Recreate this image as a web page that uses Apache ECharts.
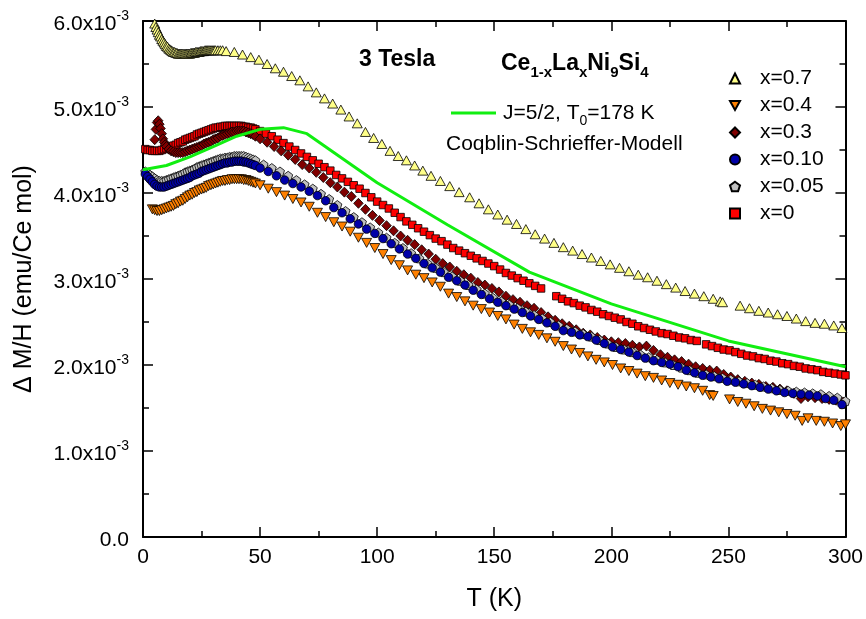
<!DOCTYPE html>
<html>
<head>
<meta charset="utf-8">
<script src="https://cdn.jsdelivr.net/npm/echarts@6/dist/echarts.min.js"></script>
<style>
  html, body { margin: 0; padding: 0; background: #fff; }
  #chart { width: 866px; height: 619px; }
</style>
</head>
<body>
<div id="chart"></div>
<script>
// Ce(1-x)La(x)Ni9Si4 at 3 T: Delta M/H in units of 1e-3 emu/(Ce mol) versus T (K)
const FONT = '"Liberation Sans", Arial, sans-serif';

const xTickValues = [0, 50, 100, 150, 200, 250, 300];
const yTickValues = [0, 1, 2, 3, 4, 5, 6];
const seriesNames = ['x=0.7', 'x=0.4', 'x=0.3', 'x=0.10', 'x=0.05', 'x=0'];
const modelName = 'J=5/2, T0=178 K';

// x = 0.7
const dataX07 = [[4.5,6.02],[5,5.97],[5.5,5.93],[6,5.90],[6.5,5.87],[7,5.84],[7.5,5.82],[8,5.79],[8.5,5.77],[9,5.75],[9.5,5.73],[10,5.71],[10.5,5.70],[11,5.68],[11.5,5.67],[12,5.66],[12.5,5.65],[13,5.64],[13.5,5.64],[14,5.63],[14.5,5.63],[15,5.62],[15.5,5.62],[16,5.62],[16.5,5.62],[17,5.62],[17.5,5.62],[18,5.62],[18.5,5.62],[19,5.62],[19.5,5.62],[20,5.62],[20.5,5.63],[21,5.63],[21.5,5.63],[22,5.63],[22.5,5.64],[23,5.64],[23.5,5.64],[24,5.64],[24.5,5.65],[25,5.65],[25.5,5.65],[26,5.65],[26.5,5.66],[27,5.66],[27.5,5.66],[28,5.66],[28.5,5.66],[29,5.66],[29.5,5.66],[30,5.66],[30.5,5.66],[31,5.66],[32,5.66],[33,5.66],[34,5.66],
  [35.5,5.65],[39,5.64],[42.5,5.61],[46,5.58],[49.5,5.55],[53,5.50],[56.5,5.45],[60,5.41],[63.5,5.36],[67,5.31],[70.5,5.24],[74,5.17],[77.5,5.10],[81,5.04],[84.5,4.97],[88,4.89],[91.5,4.81],[95,4.71],[98.5,4.64],[102,4.57],[105.5,4.49],[109,4.43],[112.5,4.38],[116,4.32],[119.5,4.26],[123,4.20],[127,4.14],[131,4.08],[135,4.01],[139.5,3.95],[143.5,3.88],[147.5,3.81],[151.5,3.75],[155.5,3.69],[159.5,3.64],[163.5,3.58],[167.5,3.52],[171.5,3.47],[175.5,3.42],[179.5,3.37],[183.5,3.33],[187.5,3.29],[191.5,3.25],[195.5,3.21],[199.5,3.17],[203.5,3.13],[207.5,3.09],[211.5,3.05],[215.5,3.02],[219.5,2.98],[223.5,2.94],[227.5,2.90],[231.5,2.86],[235.5,2.83],[239.5,2.80],[243.5,2.77],[246.5,2.74],[247.5,2.73],[255,2.69],[259,2.66],[263,2.63],[267,2.61],[271,2.59],[275,2.57],[279,2.54],[283,2.51],[287,2.49],[291,2.48],[295,2.46],[298.5,2.43]];

// x = 0.4
const dataX04 = [[4,3.81],[5,3.80],[6,3.79],[7,3.79],[8,3.80],[9,3.81],[10,3.82],[11,3.83],[12,3.84],[13,3.85],[14,3.87],[15,3.88],[16,3.90],[17,3.91],[18,3.93],[19,3.95],[20,3.97],[21,3.98],[22,4.00],[23,4.01],[24,4.03],[25,4.04],[26,4.05],[27,4.06],[28,4.08],[29,4.09],[30,4.10],[31,4.11],[32,4.12],[33,4.13],[34,4.14],[35,4.14],[36,4.15],[37,4.15],[38,4.16],[39,4.16],[40,4.16],[41,4.16],[42,4.16],[43,4.15],[44,4.15],[45,4.14],[46,4.13],[47,4.12],[48,4.11],
  [50,4.09],[53.5,4.05],[57,4.01],[60.5,3.97],[64,3.93],[67.5,3.89],[71,3.84],[74.5,3.77],[78,3.72],[81.5,3.66],[85,3.61],[88.5,3.55],[92,3.48],[95.5,3.42],[99,3.36],[102.5,3.29],[106,3.22],[109.5,3.16],[113,3.10],[116.5,3.05],[120,3.01],[123.5,2.96],[127,2.91],[130.5,2.83],[134,2.79],[137.5,2.74],[141,2.69],[144.5,2.65],[148,2.61],[151.5,2.57],[155,2.53],[158.5,2.47],[162,2.42],[165.5,2.38],[169,2.35],[172.5,2.31],[176,2.27],[179.5,2.22],[183,2.18],[186.5,2.14],[190,2.10],[193.5,2.06],[197,2.03],[200.5,2.00],[204,1.96],[207.5,1.93],[211,1.90],[214.5,1.87],[218,1.85],[221.5,1.82],[225,1.79],[228.5,1.77],[232,1.75],[235.5,1.73],[239,1.70],[242,1.65],[243.5,1.64],[250.5,1.60],[254,1.57],[257.5,1.55],[261,1.52],[264.5,1.49],[268,1.47],[271.5,1.45],[275,1.43],[278.5,1.41],[281.5,1.35],[284,1.38],[287.5,1.35],[291,1.34],[294.5,1.32],[298,1.29],[300,1.31]];

// x = 0.3
const dataX03 = [[5,4.62],[5.5,4.74],[6,4.82],[6.5,4.84],[7,4.80],[7.5,4.75],[8,4.69],[8.5,4.63],[9,4.59],[9.5,4.56],[10,4.54],[11,4.51],[12,4.49],[13,4.48],[14,4.47],[15,4.47],[16,4.47],[17,4.47],[18,4.48],[19,4.49],[20,4.50],[21,4.51],[22,4.52],[23,4.53],[24,4.54],[25,4.55],[26,4.57],[27,4.58],[28,4.59],[29,4.60],[30,4.62],[31,4.63],[32,4.64],[33,4.66],[34,4.67],[35,4.68],[36,4.69],[37,4.70],[38,4.71],[39,4.71],[40,4.72],[41,4.72],[42,4.72],[43,4.72],[44,4.71],[45,4.70],[46,4.69],[47,4.68],[48,4.66],
  [50,4.63],[53,4.59],[56,4.54],[59,4.49],[62,4.44],[65,4.39],[68,4.33],[71,4.29],[74,4.24],[77,4.18],[80,4.12],[83,4.07],[86,4.01],[89,3.96],[92,3.88],[95,3.81],[98,3.74],[101,3.68],[104,3.62],[107,3.56],[110,3.50],[113,3.45],[116,3.40],[119,3.34],[122,3.29],[125,3.23],[128,3.18],[131,3.14],[134,3.09],[137,3.05],[140,3.01],[143,2.96],[146,2.93],[149,2.89],[152,2.85],[155,2.80],[158,2.76],[161,2.73],[164,2.69],[167,2.66],[170,2.61],[173,2.56],[176,2.52],[179,2.48],[182,2.45],[185,2.41],[188,2.37],[191,2.35],[194,2.32],[197,2.29],[200,2.27],[203,2.26],[206,2.25],[209,2.23],[212,2.21],[215,2.22],[218,2.17],[221,2.12],[224,2.09],[227,2.06],[230,2.04],[233,2.01],[236,1.98],[239,1.96],[242,1.94],[245,1.93],[248,1.89],[251,1.86],[254,1.83],[257,1.81],[260,1.79],[263,1.775],[266,1.75],[269,1.74],[272,1.72],[275,1.70],[278,1.67],[281,1.61],[284,1.63],[287,1.62],[290,1.61],[293,1.60],[296,1.59],[299,1.57]];

// x = 0.10
const dataX010 = [[1,4.22],[2,4.19],[3,4.16],[4,4.13],[5,4.10],[6,4.08],[7,4.07],[8,4.07],[9,4.07],[10,4.08],[11,4.09],[12,4.10],[13,4.11],[14,4.12],[15,4.13],[16,4.14],[17,4.15],[18,4.16],[19,4.17],[20,4.18],[21,4.20],[22,4.21],[23,4.22],[24,4.23],[25,4.25],[26,4.26],[27,4.27],[28,4.28],[29,4.29],[30,4.30],[31,4.31],[32,4.32],[33,4.33],[34,4.34],[35,4.35],[36,4.35],[37,4.36],[38,4.36],[39,4.37],[40,4.37],[41,4.37],[42,4.37],[43,4.36],[44,4.36],[45,4.35],[46,4.34],[47,4.33],[48,4.32],
  [50,4.29],[53.5,4.25],[57,4.20],[60.5,4.15],[64,4.11],[67.5,4.07],[71,4.02],[74.5,3.97],[78,3.91],[81.5,3.83],[85,3.77],[88.5,3.70],[92,3.64],[95.5,3.58],[99,3.53],[102.5,3.47],[106,3.41],[109.5,3.35],[113,3.29],[116.5,3.24],[120,3.18],[123.5,3.13],[127,3.08],[130.5,3.02],[134,2.98],[137.5,2.93],[141,2.87],[144.5,2.82],[148,2.77],[151.5,2.73],[155,2.69],[158.5,2.65],[162,2.61],[165.5,2.57],[169,2.53],[172.5,2.49],[176,2.45],[179.5,2.40],[183,2.38],[186.5,2.35],[190,2.33],[193.5,2.29],[197,2.25],[200.5,2.21],[204,2.18],[207.5,2.15],[211,2.11],[214.5,2.08],[218,2.05],[221.5,2.03],[225,2.01],[228.5,1.98],[232,1.94],[235.5,1.91],[239,1.88],[242.5,1.86],[246,1.84],[249.5,1.81],[253,1.80],[256.5,1.78],[260,1.76],[263.5,1.74],[267,1.72],[270.5,1.70],[274,1.68],[277.5,1.67],[281,1.66],[284.5,1.65],[288,1.64],[291.5,1.61],[295,1.59],[298.5,1.54]];

// x = 0.05
const dataX005 = [[1,4.25],[2,4.23],[3,4.21],[4,4.19],[5,4.17],[6,4.15],[7,4.14],[8,4.14],[9,4.14],[10,4.15],[11,4.16],[12,4.17],[13,4.18],[14,4.19],[15,4.20],[16,4.21],[17,4.22],[18,4.24],[19,4.25],[20,4.26],[21,4.27],[22,4.28],[23,4.30],[24,4.31],[25,4.32],[26,4.33],[27,4.34],[28,4.35],[29,4.36],[30,4.37],[31,4.38],[32,4.39],[33,4.40],[34,4.40],[35,4.41],[36,4.41],[37,4.42],[38,4.42],[39,4.43],[40,4.43],[41,4.43],[42,4.43],[43,4.43],[44,4.42],[45,4.41],[46,4.40],[47,4.39],[48,4.38],
  [51.5,4.33],[55,4.29],[58.5,4.25],[62,4.20],[65.5,4.15],[69,4.10],[72.5,4.05],[76,3.99],[79.5,3.93],[83,3.86],[86.5,3.79],[90,3.72],[93.5,3.66],[97,3.60],[100.5,3.54],[104,3.48],[107.5,3.42],[111,3.36],[114.5,3.30],[118,3.24],[121.5,3.18],[125,3.13],[128.5,3.08],[132,3.03],[135.5,2.98],[139,2.93],[142.5,2.88],[146,2.83],[149.5,2.78],[153,2.74],[156.5,2.70],[160,2.66],[163.5,2.62],[167,2.58],[170.5,2.54],[174,2.50],[177.5,2.46],[181,2.42],[184.5,2.39],[188,2.36],[191.5,2.33],[195,2.29],[198.5,2.25],[202,2.21],[205.5,2.18],[209,2.15],[212.5,2.12],[216,2.09],[219.5,2.06],[223,2.03],[226.5,2.00],[230,1.97],[233.5,1.94],[237,1.91],[240.5,1.89],[244,1.87],[247.5,1.85],[251,1.83],[254.5,1.81],[258,1.79],[261.5,1.77],[265,1.75],[268.5,1.73],[272,1.71],[275.5,1.70],[279,1.69],[282.5,1.68],[286,1.67],[289.5,1.66],[293,1.64],[296.5,1.62],[300,1.58]];

// x = 0
const dataX0 = [[1,4.51],[2,4.50],[3,4.50],[4,4.49],[5,4.49],[6,4.49],[7,4.49],[8,4.50],[9,4.51],[10,4.52],[11,4.53],[12,4.54],[13,4.55],[14,4.56],[15,4.58],[16,4.59],[17,4.60],[18,4.62],[19,4.63],[20,4.64],[21,4.65],[22,4.66],[23,4.68],[24,4.69],[25,4.70],[26,4.71],[27,4.72],[28,4.73],[29,4.74],[30,4.75],[31,4.76],[32,4.76],[33,4.77],[34,4.77],[35,4.78],[36,4.78],[37,4.78],[38,4.78],[39,4.78],[40,4.78],[41,4.78],[42,4.78],[43,4.77],[44,4.77],[45,4.76],[46,4.76],[47,4.75],[48,4.74],
  [50,4.72],[52.5,4.69],[55,4.66],[57.5,4.62],[60,4.58],[62.5,4.54],[65,4.50],[67.5,4.46],[70,4.42],[72.5,4.38],[75,4.34],[77.5,4.30],[80,4.26],[82.5,4.21],[85,4.17],[87.5,4.13],[90,4.09],[92.5,4.05],[95,4.00],[97.5,3.95],[100,3.90],[102.5,3.86],[105,3.82],[107.5,3.77],[110,3.72],[112.5,3.67],[115,3.63],[117.5,3.59],[120,3.55],[122.5,3.51],[125,3.47],[127.5,3.44],[130,3.40],[132.5,3.36],[135,3.33],[137.5,3.30],[140,3.27],[142.5,3.24],[145,3.21],[147.5,3.18],[150,3.15],[152.5,3.11],[155,3.07],[157.5,3.04],[160,3.01],[162.5,2.98],[165,2.95],[167.5,2.92],[170,2.89],[176.5,2.80],[179,2.77],[181.5,2.74],[184,2.72],[186.5,2.69],[189,2.67],[191.5,2.64],[194,2.62],[196.5,2.59],[199,2.57],[201.5,2.55],[204,2.53],[206.5,2.50],[209,2.48],[211.5,2.45],[214,2.43],[216.5,2.41],[219,2.39],[221.5,2.37],[224,2.36],[226.5,2.34],[229,2.32],[231.5,2.31],[234,2.29],[236.5,2.28],[240.5,2.24],[243,2.22],[245.5,2.20],[248,2.18],[250.5,2.17],[253,2.15],[255.5,2.13],[258,2.11],[260.5,2.10],[263,2.08],[265.5,2.07],[268,2.05],[270.5,2.04],[273,2.02],[275.5,2.01],[278,1.99],[280.5,1.98],[283,1.96],[285.5,1.95],[288,1.94],[290.5,1.92],[293,1.91],[295.5,1.90],[298,1.89],[300,1.88]];

// Coqblin-Schrieffer model curve, J = 5/2, T0 = 178 K
const modelCurve = [[0,4.27],[10,4.32],[20,4.42],[30,4.54],[40,4.66],[50,4.74],[60,4.76],[70,4.69],[100,4.12],[130,3.63],[165,3.08],[200,2.71],[250,2.28],[300,1.98]];

const PENTAGON = 'path://M50,0 L97.6,34.5 L79.4,90.5 L20.6,90.5 L2.4,34.5 Z';
const DOWN_TRIANGLE = 'path://M0,0 L10,0 L5,9 Z';
const MODEL_GREEN = '#11EE11';

function scatter(name, data, symbol, size, color, extra) {
  return Object.assign({
    type: 'scatter', name: name, data: data,
    symbol: symbol, symbolSize: size,
    itemStyle: { color: color, borderColor: '#000', borderWidth: 0.8, opacity: 1 },
    emphasis: { disabled: true },
    clip: true
  }, extra || {});
}

const tickStyle = { color: '#000', width: 1.5 };
function axisBase() {
  return {
    axisLine: { show: true, onZero: false, lineStyle: { color: '#000', width: 2 } },
    axisTick: { show: true, inside: true, length: 10, lineStyle: tickStyle },
    minorTick: { show: true, splitNumber: 2, length: 6, lineStyle: tickStyle },
    splitLine: { show: false }
  };
}

// legend entries; the x=0.4 marker points downward
const legendItems = seriesNames.map(n => n === 'x=0.4' ? { name: n, icon: DOWN_TRIANGLE } : { name: n });

const chart = echarts.init(document.getElementById('chart'), null, { renderer: 'canvas' });

chart.setOption({
  animation: false,
  backgroundColor: '#fff',
  grid: { left: 143, right: 20, top: 21, bottom: 82, containLabel: false },
  xAxis: [
    Object.assign(axisBase(), {
      type: 'value', min: 0, max: 300, interval: 50, position: 'bottom',
      axisLabel: {
        fontSize: 21, color: '#000', fontFamily: FONT, margin: 10,
        formatter: v => xTickValues.indexOf(v) >= 0 ? String(v) : ''
      },
      name: 'T (K)', nameLocation: 'middle', nameGap: 50,
      nameTextStyle: { fontSize: 25, color: '#000', fontFamily: FONT }
    }),
    Object.assign(axisBase(), {
      type: 'value', min: 0, max: 300, interval: 50, position: 'top',
      axisLabel: { show: false }
    })
  ],
  yAxis: [
    Object.assign(axisBase(), {
      type: 'value', min: 0, max: 6, interval: 1, position: 'left',
      axisLabel: {
        margin: 14, padding: [6, 0, 0, 0],
        formatter: v => {
          if (yTickValues.indexOf(v) < 0) return '';
          return v === 0 ? '{m|0.0}' : '{m|' + v.toFixed(1) + 'x10}{s|-3}';
        },
        rich: {
          m: { fontSize: 21, lineHeight: 30, color: '#000', fontFamily: FONT },
          s: { fontSize: 14, lineHeight: 14, padding: [0, 0, 16, 0], verticalAlign: 'top', color: '#000', fontFamily: FONT }
        }
      },
      name: '\u0394 M/H (emu/Ce mol)', nameLocation: 'middle', nameGap: 106,
      nameTextStyle: { fontSize: 25, color: '#000', fontFamily: FONT }
    }),
    Object.assign(axisBase(), {
      type: 'value', min: 0, max: 6, interval: 1, position: 'right',
      axisLabel: { show: false }
    })
  ],
  legend: [
    {
      data: legendItems, orient: 'vertical', left: 724, top: 63,
      itemWidth: 10, itemHeight: 10, itemGap: 6, selectedMode: false,
      textStyle: { fontSize: 21, lineHeight: 21, color: '#000', fontFamily: FONT, padding: [0, 0, 0, 15] }
    },
    {
      data: [{ name: modelName, icon: 'rect' }], orient: 'horizontal', left: 446, top: 93,
      itemWidth: 45, itemHeight: 3, selectedMode: false,
      itemStyle: { color: MODEL_GREEN },
      formatter: () => '{a|J=5/2, T}{s|0}{a|=178 K}',
      textStyle: {
        color: '#000', fontFamily: FONT, fontSize: 21, padding: [0, 0, 0, 2],
        rich: {
          a: { fontSize: 21, lineHeight: 30, color: '#000', fontFamily: FONT },
          s: { fontSize: 14, lineHeight: 14, padding: [16, 0, 0, 0], verticalAlign: 'top', color: '#000', fontFamily: FONT }
        }
      }
    }
  ],
  graphic: [
    {
      type: 'text', left: 359, top: 48, silent: true,
      style: { text: '3 Tesla', fontSize: 23, fontWeight: 'bold', fontFamily: FONT, fill: '#000' }
    },
    {
      type: 'text', left: 501, top: 48, silent: true,
      style: {
        text: '{m|Ce}{s|1-x}{m|La}{s|x}{m|Ni}{s|9}{m|Si}{s|4}',
        fill: '#000',
        rich: {
          m: { fontSize: 23, fontWeight: 'bold', lineHeight: 32, fontFamily: FONT, fill: '#000' },
          s: { fontSize: 15, fontWeight: 'bold', lineHeight: 15, padding: [17, 0, 0, 0], verticalAlign: 'top', fontFamily: FONT, fill: '#000' }
        }
      }
    },
    {
      type: 'text', left: 446, top: 134, silent: true,
      style: { text: 'Coqblin-Schrieffer-Modell', fontSize: 21, fontFamily: FONT, fill: '#000' }
    }
  ],
  series: [
    scatter('x=0', dataX0, 'rect', 7.5, '#FF0000'),
    scatter('x=0.3', dataX03, 'diamond', [9.5, 10], '#800000'),
    scatter('x=0.05', dataX005, PENTAGON, 9, '#C0C0C0'),
    scatter('x=0.10', dataX010, 'circle', 8.5, '#0000A8'),
    scatter('x=0.4', dataX04, 'triangle', [10, 9], '#FF8000', { symbolRotate: 180 }),
    scatter('x=0.7', dataX07, 'triangle', [10, 9], '#FFFF88'),
    {
      type: 'line', name: modelName, data: modelCurve,
      symbol: 'none', smooth: false,
      lineStyle: { color: MODEL_GREEN, width: 3 },
      itemStyle: { color: MODEL_GREEN },
      emphasis: { disabled: true }
    }
  ]
});
</script>
</body>
</html>
